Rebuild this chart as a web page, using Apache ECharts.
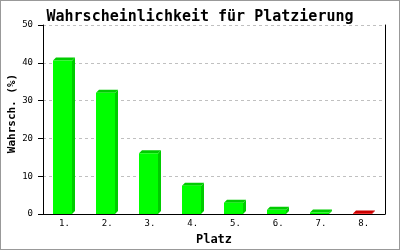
<!DOCTYPE html>
<html><head><meta charset="utf-8">
<script src="https://cdn.jsdelivr.net/npm/echarts@6/dist/echarts.min.js"></script>
<style>html,body{margin:0;padding:0;background:#fff}#c{width:400px;height:250px;box-sizing:border-box;border:1px solid #999}</style>
</head><body><div id="c"></div>
<script>
var categories = ['1.', '2.', '3.', '4.', '5.', '6.', '7.', '8.'];
var values = [40.6, 32.1, 16.1, 7.5, 3.0, 1.1, 0.4, 0.15];
var highlighted = [false, false, false, false, false, false, false, true];
var yTicks = [0, 10, 20, 30, 40, 50];

var MONO = '"DejaVu Sans Mono", "Liberation Mono", monospace';
var chart = echarts.init(document.getElementById('c'), null, {renderer: 'canvas'});
var data = values.map(function (v, i) { return [i, v, highlighted[i] ? 1 : 0]; });

chart.setOption({
  animation: false,
  title: {
    text: 'Wahrscheinlichkeit für Platzierung',
    left: 'center', top: 4,
    textStyle: {fontFamily: MONO, fontSize: 15, fontWeight: 'bold', color: '#000'}
  },
  grid: {left: 42, right: 14, top: 24, bottom: 35, containLabel: false, outerBoundsMode: 'none'},
  xAxis: {
    type: 'category', data: categories,
    name: 'Platz', nameLocation: 'middle', nameGap: 20,
    nameTextStyle: {fontFamily: MONO, fontSize: 12, fontWeight: 'bold', color: '#000'},
    axisLine: {lineStyle: {color: '#000', width: 1}},
    axisTick: {show: false},
    axisLabel: {fontFamily: MONO, fontSize: 9, color: '#000', margin: 5}
  },
  yAxis: [{
    type: 'value', min: yTicks[0], max: yTicks[yTicks.length - 1], interval: 10,
    name: 'Wahrsch. (%)', nameLocation: 'middle', nameGap: 25, nameMoveOverlap: false,
    nameTextStyle: {fontFamily: MONO, fontSize: 11, fontWeight: 'bold', color: '#000', padding: [0, 0, 0, 12]},
    axisLine: {show: true, lineStyle: {color: '#000', width: 1}},
    axisTick: {show: true, length: 5, lineStyle: {color: '#000'}},
    axisLabel: {fontFamily: MONO, fontSize: 9, color: '#000', margin: 10},
    splitLine: {show: true, lineStyle: {color: '#c0c0c0', type: [3, 3]}}
  }, {
    type: 'value', position: 'right', min: 0, max: 50, interval: 10,
    axisLine: {show: true, lineStyle: {color: '#000', width: 1}},
    axisTick: {show: false}, axisLabel: {show: false}, splitLine: {show: false}
  }],
  series: [{
    type: 'custom',
    data: data,
    renderItem: function (params, api) {
      var x = api.value(0), y = api.value(1), hi = api.value(2);
      var top = api.coord([x, y]);
      var base = api.coord([x, 0]);
      var band = api.size([1, 0])[0];
      var d = 3;
      var w = Math.round(band * 0.45);
      var left = Math.round(top[0] - w / 2 - d / 2);
      var right = left + w;
      var t = top[1], b = base[1];
      var front = hi ? '#ff0000' : '#00ff00';
      var dark = hi ? '#cc0000' : '#00cc00';
      return {
        type: 'group',
        children: [
          {type: 'polygon', shape: {points: [[right, t], [right + d, t - d], [right + d, b - d], [right, b]]}, style: {fill: dark}},
          {type: 'polygon', shape: {points: [[left, t], [left + d, t - d], [right + d, t - d], [right, t]]}, style: {fill: dark}},
          {type: 'rect', shape: {x: left, y: t, width: w, height: b - t}, style: {fill: front}}
        ]
      };
    }
  }]
});
</script></body></html>
